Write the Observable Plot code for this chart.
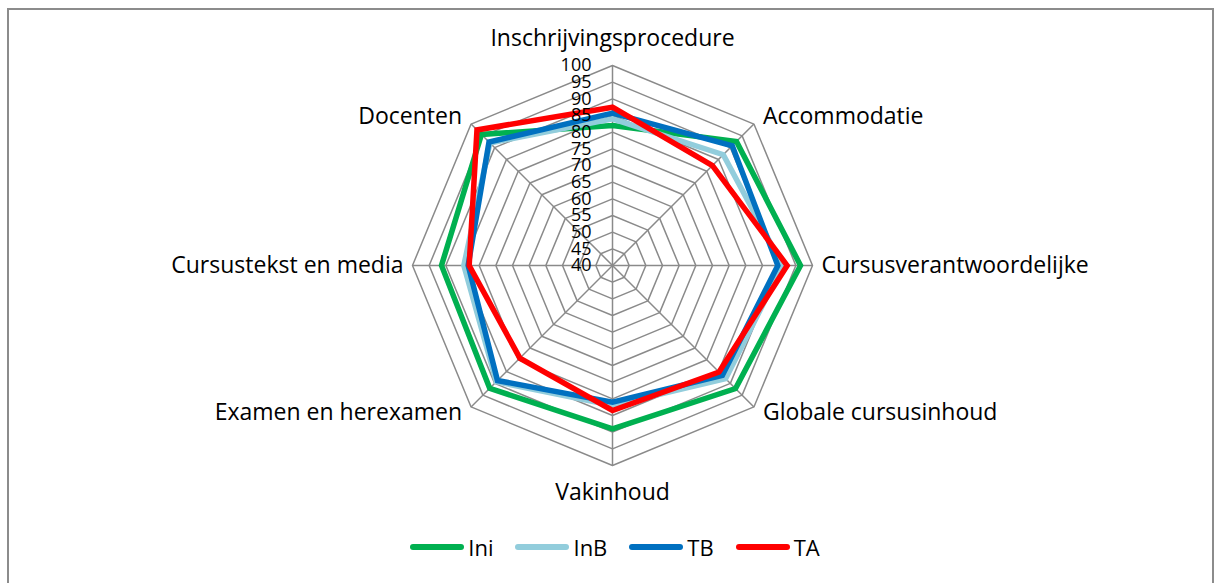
<!DOCTYPE html>
<html>
<head>
<meta charset="utf-8">
<script src="https://cdn.jsdelivr.net/npm/d3@7"></script>
<script src="https://cdn.jsdelivr.net/npm/@observablehq/plot@0.6"></script>
<style>
  html, body { margin: 0; padding: 0; background: #fff; }
  body { width: 1219px; height: 583px; overflow: hidden; position: relative; font-family: "Open Sans", sans-serif; }
  #frame { position: absolute; left: 7px; top: 8px; width: 1203px; height: 620px; border: 2px solid #8c8c8c; border-bottom: none; }
  #chart { position: absolute; left: 0; top: 0; }
  #legend { position: absolute; left: 0; top: 532px; width: 1230px; display: flex; justify-content: center; align-items: center; font-size: 22px; color: #000; }
  .item { display: flex; align-items: center; margin-right: 22px; }
  .item:last-child { margin-right: 0; }
  .sw { width: 54px; height: 6px; border-radius: 3px; margin-right: 4px; }
</style>
</head>
<body>
<div id="frame"></div>
<div id="chart"></div>
<div id="legend"></div>
<script>
const categories = ["Inschrijvingsprocedure","Accommodatie","Cursusverantwoordelijke","Globale cursusinhoud","Vakinhoud","Examen en herexamen","Cursustekst en media","Docenten"];
const seriesNames = ["Ini","InB","TB","TA"];
const seriesColors = ["#00B050","#92CDDC","#0070C0","#FF0000"];
const Ini = [82, 92.6, 96.4, 92.2, 89, 92.1, 91.3, 95.6];
const InB = [84, 87, 91, 88, 82, 89.3, 84.6, 92];
const TB  = [85.7, 90.8, 89.6, 86.6, 81, 88.8, 83.3, 92.4];
const TA  = [87.5, 82.4, 92.4, 85.2, 83.5, 79.3, 83, 97.5];
const tickValues = [40,45,50,55,60,65,70,75,80,85,90,95,100];
const rMin = 40, rMax = 100;

const seriesValues = [Ini, InB, TB, TA];
const n = categories.length;
const rad = v => (v - rMin) / (rMax - rMin);
const ang = i => i * 2 * Math.PI / n;
const px = (v, i) => rad(v) * Math.sin(ang(i));
const py = (v, i) => rad(v) * Math.cos(ang(i));

const rings = [];
tickValues.slice(1).forEach(t => {
  for (let k = 0; k <= n; k++) rings.push({t, x: px(t, k % n), y: py(t, k % n)});
});
const spokes = categories.map((c, i) => ({x1: 0, y1: 0, x2: px(rMax, i), y2: py(rMax, i)}));
const pts = [];
seriesNames.forEach((s, si) => {
  for (let k = 0; k <= n; k++) pts.push({s, x: px(seriesValues[si][k % n], k % n), y: py(seriesValues[si][k % n], k % n)});
});
const labels = categories.map((c, i) => {
  const sx = Math.sin(ang(i)), cy = Math.cos(ang(i));
  const anchor = Math.abs(sx) < 1e-6 ? "middle" : (sx > 0 ? "start" : "end");
  return {c, x: px(rMax, i), y: py(rMax, i), anchor, sx, cy};
});
const ticks = tickValues.map(t => ({t, x: 0, y: py(t, 0)}));

function labelMark(d) {
  let dx = 0, dy = 0;
  if (d.anchor === "middle") dy = d.cy > 0 ? -27 : 27;
  else {
    dx = d.anchor === "start" ? 9 : -9;
    dy = d.cy > 0.5 ? -7 : (d.cy < -0.5 ? 6 : 0);
  }
  return Plot.text([d], {x: "x", y: "y", text: "c", textAnchor: d.anchor, dx, dy, fontSize: 23, fill: "#000"});
}

const W = 1219, H = 525, cx = 612, cyc = 265, R = 200;
const plot = Plot.plot({
  width: W, height: H,
  margin: 0,
  x: {domain: [-cx / R, (W - cx) / R], range: [0, W], axis: null},
  y: {domain: [-(H - cyc) / R, cyc / R], range: [H, 0], axis: null},
  style: {fontFamily: "'Open Sans', sans-serif", background: "transparent"},
  marks: [
    Plot.line(rings, {x: "x", y: "y", z: "t", stroke: "#8a8a8a", strokeWidth: 1.5}),
    Plot.link(spokes, {x1: "x1", y1: "y1", x2: "x2", y2: "y2", stroke: "#8a8a8a", strokeWidth: 1.5}),
    ...seriesNames.map((s, si) => Plot.line(pts.filter(d => d.s === s), {x: "x", y: "y", stroke: seriesColors[si], strokeWidth: 5.5, strokeLinejoin: "miter", strokeMiterlimit: 10})),
    Plot.text(ticks, {x: "x", y: "y", text: d => String(d.t), textAnchor: "end", dx: -21, fontSize: 18, fill: "#000"}),
    ...labels.map(labelMark)
  ]
});
document.getElementById("chart").appendChild(plot);

const legend = document.getElementById("legend");
seriesNames.forEach((s, si) => {
  const it = document.createElement("div");
  it.className = "item";
  const sw = document.createElement("div");
  sw.className = "sw";
  sw.style.background = seriesColors[si];
  const tx = document.createElement("span");
  tx.textContent = s;
  it.appendChild(sw); it.appendChild(tx);
  legend.appendChild(it);
});
</script>
</body>
</html>
